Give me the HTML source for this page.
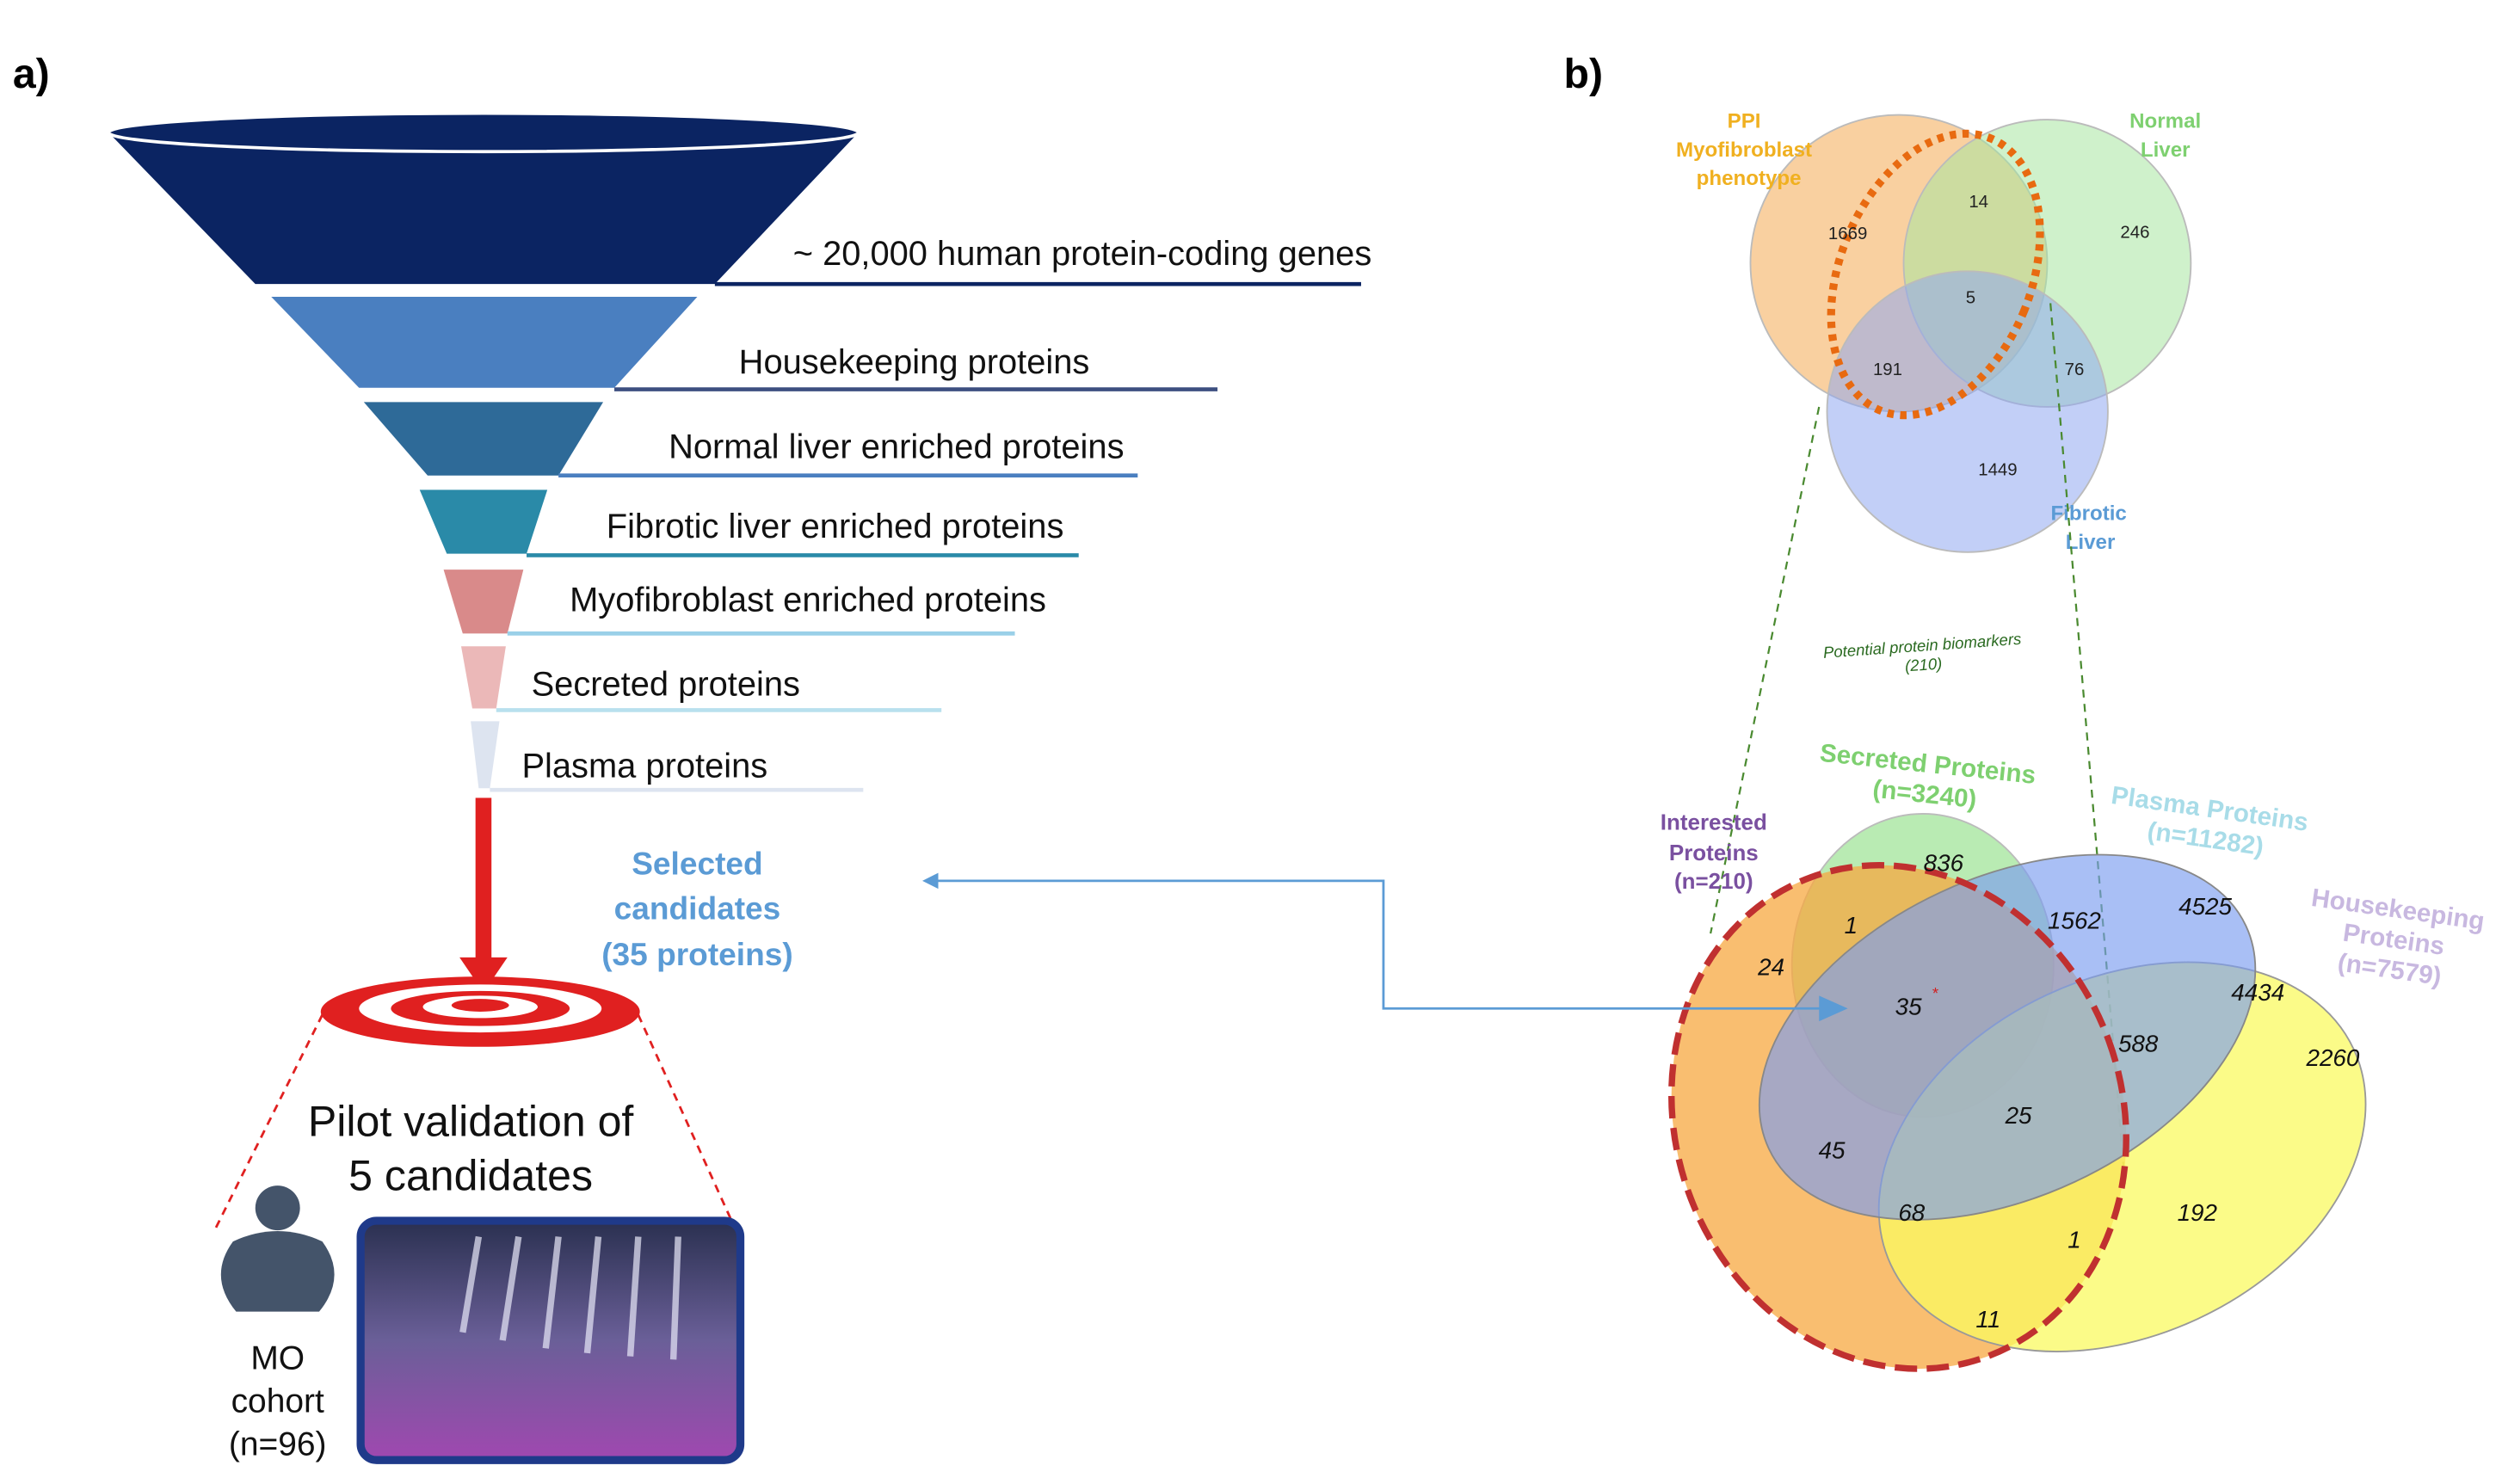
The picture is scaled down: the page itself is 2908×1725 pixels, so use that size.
<!DOCTYPE html>
<html><head><meta charset="utf-8"><style>
html,body{margin:0;padding:0;background:#fff}
svg{display:block}
text{font-family:"Liberation Sans",sans-serif}
</style></head><body>
<svg width="2908" height="1725" viewBox="0 0 1568 930" preserveAspectRatio="none" xmlns="http://www.w3.org/2000/svg">
<defs>
<linearGradient id="ph" x1="0" y1="0" x2="0" y2="1"><stop offset="0" stop-color="#2a3050"/><stop offset="0.5" stop-color="#6a5f98"/><stop offset="1" stop-color="#a048b0"/></linearGradient>
<marker id="ab" markerWidth="10" markerHeight="10" refX="8" refY="5" orient="auto" markerUnits="userSpaceOnUse"><path d="M0,0 L10,5 L0,10 z" fill="#5b9bd5"/></marker>
</defs>
<text x="8" y="55" font-size="26" font-weight="bold">a)</text>
<text x="980" y="55" font-size="26" font-weight="bold">b)</text>

<!-- funnel -->
<polygon points="68,83 538,83 448,178 160,178" fill="#0b2462"/>
<ellipse cx="303" cy="83" rx="235" ry="12" fill="#0b2462" stroke="#fff" stroke-width="2"/>
<polygon points="170,186 437,186 385,243 225,243" fill="#4a7fc0"/>
<polygon points="228,252 378,252 350,298 268,298" fill="#2e6a98"/>
<polygon points="263,307 343,307 330,347 280,347" fill="#2a8aa8"/>
<polygon points="278,357 328,357 318,397 290,397" fill="#d98a8a"/>
<polygon points="289,405 317,405 311,444 296,444" fill="#ebb8b8"/>
<polygon points="295,452 313,452 307,494 300,494" fill="#dde4f0"/>
<g stroke-width="2.5" fill="none">
<line x1="448" y1="178" x2="853" y2="178" stroke="#0b2462"/>
<line x1="385" y1="244" x2="763" y2="244" stroke="#3d4f80"/>
<line x1="350" y1="298" x2="713" y2="298" stroke="#4a7fc0"/>
<line x1="330" y1="348" x2="676" y2="348" stroke="#2a8aa8"/>
<line x1="318" y1="397" x2="636" y2="397" stroke="#9ad0e8"/>
<line x1="311" y1="445" x2="590" y2="445" stroke="#b8e0ee"/>
<line x1="307" y1="495" x2="541" y2="495" stroke="#dde4f0"/>
</g>
<g font-size="21.5" fill="#111">
<text x="497" y="166">~ 20,000 human protein-coding genes</text>
<text x="463" y="234">Housekeeping proteins</text>
<text x="419" y="287">Normal liver enriched proteins</text>
<text x="380" y="337">Fibrotic liver enriched proteins</text>
<text x="357" y="383">Myofibroblast enriched proteins</text>
<text x="333" y="436">Secreted proteins</text>
<text x="327" y="487">Plasma proteins</text>
</g>
<!-- red arrow -->
<rect x="298" y="500" width="10" height="103" fill="#e02020"/>
<polygon points="288,600 318,600 303,622" fill="#e02020"/>
<g font-size="20" font-weight="bold" fill="#5b9bd5" text-anchor="middle">
<text x="437" y="548">Selected</text><text x="437" y="576">candidates</text><text x="437" y="605">(35 proteins)</text>
</g>
<!-- target -->
<ellipse cx="301" cy="634" rx="100" ry="22" fill="#e02020"/>
<ellipse cx="301" cy="632" rx="76" ry="15" fill="#fff"/>
<ellipse cx="301" cy="632" rx="56" ry="11" fill="#e02020"/>
<ellipse cx="301" cy="631" rx="36" ry="7" fill="#fff"/>
<ellipse cx="301" cy="630" rx="18" ry="4" fill="#e02020"/>
<line x1="202" y1="636" x2="135" y2="770" stroke="#e02020" stroke-dasharray="5,4" stroke-width="1.5"/>
<line x1="400" y1="636" x2="463" y2="775" stroke="#e02020" stroke-dasharray="5,4" stroke-width="1.5"/>
<g font-size="27" fill="#111" text-anchor="middle">
<text x="295" y="712">Pilot validation of</text><text x="295" y="746">5 candidates</text>
</g>
<!-- person -->
<circle cx="174" cy="757" r="14" fill="#44546a"/>
<path d="M146,778 Q174,765 202,778 Q218,800 200,822 L148,822 Q130,800 146,778 z" fill="#44546a"/>
<g font-size="21" fill="#111" text-anchor="middle">
<text x="174" y="858">MO</text><text x="174" y="885">cohort</text><text x="174" y="912">(n=96)</text>
</g>
<rect x="226" y="765" width="238" height="150" rx="10" fill="url(#ph)" stroke="#1f3a8a" stroke-width="5"/>
<g stroke="#e8e8f8" stroke-width="4" opacity="0.7">
<line x1="300" y1="775" x2="290" y2="835"/><line x1="325" y1="775" x2="315" y2="840"/><line x1="350" y1="775" x2="342" y2="845"/><line x1="375" y1="775" x2="368" y2="848"/><line x1="400" y1="775" x2="395" y2="850"/><line x1="425" y1="775" x2="422" y2="852"/>
</g>

<!-- top venn -->
<circle cx="1190" cy="165" r="93" fill="#f7c080" fill-opacity="0.75" stroke="#bbb"/>
<circle cx="1283" cy="165" r="90" fill="#a8e6a0" fill-opacity="0.55" stroke="#bbb"/>
<circle cx="1233" cy="258" r="88" fill="#8fa8f0" fill-opacity="0.55" stroke="#bbb"/>
<ellipse cx="1213" cy="172" rx="60" ry="92" transform="rotate(22 1213 172)" fill="none" stroke="#e86a10" stroke-width="5" stroke-dasharray="4,4"/>
<g font-size="11" fill="#222" text-anchor="middle">
<text x="1158" y="150">1669</text><text x="1240" y="130">14</text><text x="1338" y="149">246</text>
<text x="1235" y="190">5</text><text x="1183" y="235">191</text><text x="1300" y="235">76</text><text x="1252" y="298">1449</text>
</g>
<g font-size="13" font-weight="bold" text-anchor="middle">
<text x="1093" y="80" fill="#f0b020">PPI</text><text x="1093" y="98" fill="#f0b020">Myofibroblast</text><text x="1096" y="116" fill="#f0b020">phenotype</text>
<text x="1357" y="80" fill="#7ed070">Normal</text><text x="1357" y="98" fill="#7ed070">Liver</text>
<text x="1309" y="326" fill="#5b9bd5">Fibrotic</text><text x="1310" y="344" fill="#5b9bd5">Liver</text>
</g>
<line x1="1140" y1="255" x2="1072" y2="585" stroke="#4a8a30" stroke-dasharray="5,4" stroke-width="1.2"/>
<line x1="1285" y1="190" x2="1332" y2="745" stroke="#4a8a30" stroke-dasharray="5,4" stroke-width="1.2"/>
<g font-size="10" font-style="italic" fill="#2a6a20" text-anchor="middle" transform="rotate(-4 1205 410)">
<text x="1205" y="408">Potential protein biomarkers</text><text x="1205" y="420">(210)</text>
</g>

<!-- bottom venn -->
<ellipse cx="1205" cy="605" rx="82" ry="95" fill="#a8e6a0" fill-opacity="0.8" stroke="#bbb"/>
<ellipse cx="1190" cy="700" rx="140" ry="160" transform="rotate(-20 1190 700)" fill="#f7a840" fill-opacity="0.75"/>
<ellipse cx="1330" cy="725" rx="160" ry="112" transform="rotate(-25 1330 725)" fill="#fafa60" fill-opacity="0.75" stroke="#999"/>
<ellipse cx="1258" cy="650" rx="165" ry="100" transform="rotate(-25 1258 650)" fill="#7b9cf0" fill-opacity="0.65" stroke="#888"/>
<ellipse cx="1190" cy="700" rx="140" ry="160" transform="rotate(-20 1190 700)" fill="none" stroke="#c03030" stroke-width="4" stroke-dasharray="14,6"/>
<g font-size="15" fill="#111" text-anchor="middle" font-style="italic">
<text x="1218" y="546">836</text><text x="1160" y="585">1</text><text x="1300" y="582">1562</text><text x="1382" y="573">4525</text>
<text x="1110" y="611">24</text><text x="1196" y="636">35</text><text x="1415" y="627">4434</text><text x="1340" y="659">588</text><text x="1462" y="668">2260</text>
<text x="1265" y="704">25</text><text x="1148" y="726">45</text><text x="1198" y="765">68</text><text x="1377" y="765">192</text><text x="1300" y="782">1</text><text x="1246" y="832">11</text>
</g>
<text x="1211" y="626" font-size="10" fill="#d02020">*</text>
<g font-size="14" font-weight="bold" text-anchor="middle">
<text x="1074" y="520" fill="#7a50a0">Interested</text><text x="1074" y="539" fill="#7a50a0">Proteins</text><text x="1074" y="557" fill="#7a50a0">(n=210)</text>
<g transform="rotate(6 1207 490)"><text x="1207" y="484" fill="#7ed070" font-size="16">Secreted Proteins</text><text x="1207" y="503" fill="#7ed070" font-size="16">(n=3240)</text></g>
<g transform="rotate(8 1383 520)"><text x="1383" y="512" fill="#a8dce8" font-size="16">Plasma Proteins</text><text x="1383" y="531" fill="#a8dce8" font-size="16">(n=11282)</text></g>
<g transform="rotate(8 1500 590)"><text x="1500" y="575" fill="#c8b8e0" font-size="16">Housekeeping</text><text x="1500" y="594" fill="#c8b8e0" font-size="16">Proteins</text><text x="1500" y="613" fill="#c8b8e0" font-size="16">(n=7579)</text></g>
</g>

<!-- blue connector -->
<polyline points="1155,632 867,632 867,552 580,552" fill="none" stroke="#5b9bd5" stroke-width="1.5" marker-end="url(#ab)"/>
<polygon points="1158,632 1140,624 1140,640" fill="#5b9bd5"/>
</svg>
</body></html>
